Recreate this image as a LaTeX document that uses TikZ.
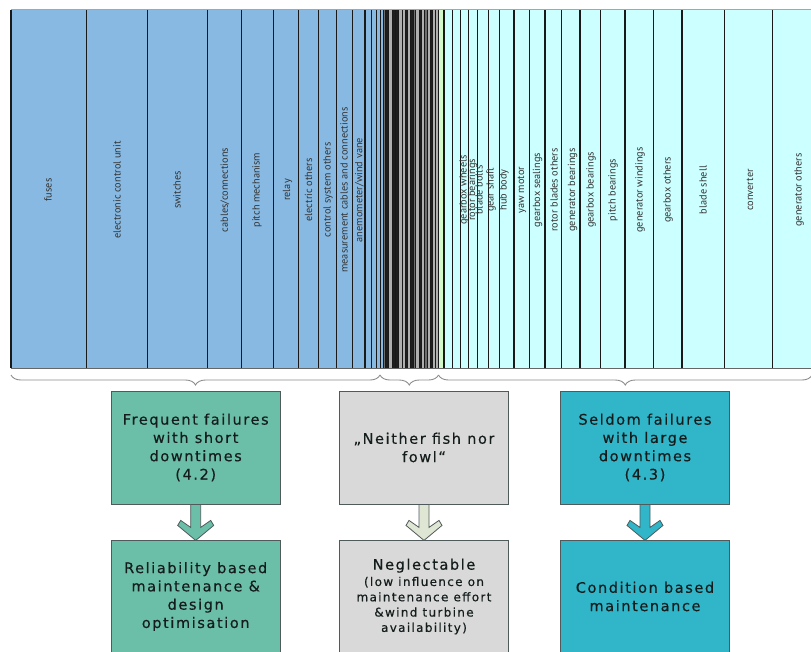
\documentclass[tikz,border=0pt]{standalone}
\usepackage{fontspec}
\setmainfont{DejaVu Sans}[LetterSpace=11, FakeBold=0.35]
\newfontfamily\labfont{PT Sans}
\usetikzlibrary{decorations.pathreplacing}
\definecolor{barblue}{RGB}{135,185,226}
\definecolor{barcyan}{RGB}{204,255,255}
\definecolor{bargreen}{RGB}{210,250,200}
\definecolor{bargray}{RGB}{175,175,175}
\definecolor{barmid}{RGB}{110,110,110}
\definecolor{bardark}{RGB}{30,30,30}
\definecolor{boxgreen}{RGB}{107,191,168}
\definecolor{boxgray}{RGB}{217,217,217}
\definecolor{boxteal}{RGB}{49,181,200}
\definecolor{arrowgray}{RGB}{224,230,212}
\definecolor{txt}{RGB}{20,28,28}
\definecolor{edge}{RGB}{80,90,90}
\tikzset{
  x=1pt, y=-1pt,
  barline/.style={line width=1.35pt, draw=black!90},
  thinline/.style={line width=0.7pt, draw=black!90},
  lab/.style={font=\labfont\fontsize{10.3}{10.3}\selectfont, rotate=90, text=black!80, inner sep=0pt},
  bigbox/.style={draw=edge, line width=0.8pt, minimum width=169pt, minimum height=113pt,
     align=center, text=txt, inner sep=2pt, font=\fontsize{14.5}{18.3}\selectfont},
  bracest/.style={draw=black!45, line width=0.9pt, decorate,
     decoration={brace, amplitude=10pt, mirror}},
  blockarrow/.style={draw=edge, line width=0.8pt},
}
\newcommand\mkarrow[3]{%
  \draw[blockarrow, fill=#3, shift={(#1.south)}]
    (-5,0) -- (5,0) -- (5,23) -- (15,16) -- (18,21) -- (0,36) -- (-18,21) -- (-15,16) -- (-5,23) -- cycle;}
\begin{document}
\begin{tikzpicture}
\useasboundingbox (0,0) rectangle (811,651);
\clip (0,0) rectangle (811,651);
% chart bars
\foreach \a/\b/\c in {
 11/86.7/barblue, 86.7/147.7/barblue, 147.7/207.3/barblue, 207.3/241.7/barblue,
 241.7/273.3/barblue, 273.3/298.7/barblue, 298.7/318.7/barblue, 318.7/336.7/barblue,
 336.7/352.3/barblue, 352.3/365/barblue, 365/371.7/barblue, 371.7/376.3/barblue,
 376.3/380.5/barblue,
 438.3/444/bargreen,
 444/452.5/barcyan, 452.5/460.5/barcyan, 460.5/468.7/barcyan, 468.7/477.7/barcyan,
 477.7/488.3/barcyan, 488.3/499.3/barcyan, 499.3/514/barcyan, 514/529.3/barcyan,
 529.3/545/barcyan, 545/561.7/barcyan, 561.7/580/barcyan, 580/600.7/barcyan,
 600.7/625/barcyan, 625/653.3/barcyan, 653.3/682/barcyan, 682/724.3/barcyan,
 724.3/772.7/barcyan, 772.7/830/barcyan}
 {\fill[\c] (\a,10) rectangle (\b,368);
  \draw[barline] (\a,10) -- (\a,368);}
% dense middle part
\foreach \a/\b/\c in {
 380.5/383.5/barblue,
 383.5/385.5/barmid, 385.5/388.5/bardark, 388.5/392/bargray, 392/395/bardark,
 395/398/bardark, 398/402/bargray, 402/405/bargray, 405/407.5/bardark,
 407.5/410.5/bargray, 410.5/413/bardark, 413/415.5/barmid, 415.5/419/bargray,
 419/421.5/bardark, 421.5/424.5/bargray, 424.5/427/barmid, 427/430/bargray,
 430/432.5/bardark, 432.5/435.5/bargray, 435.5/438.3/bargray}
 {\fill[\c] (\a,10) rectangle (\b,368);
  \draw[thinline] (\a,10) -- (\a,368);}
\draw[barline] (438.3,10) -- (438.3,368);
\draw[black!35, line width=1pt] (11,9.5) -- (811,9.5);
\draw[black!60, line width=1pt] (11,368) -- (811,368);
% bar labels
\foreach \x/\t in {48/fuses, 117/electronic control unit, 177/switches,
 225/cables\slash connections, 257/pitch mechanism, 287.5/relay, 308.5/electric others,
 328/control system others, 344/measurement cables and connections,
 359.5/anemometer\slash wind vane, 464/gearbox wheels, 472.5/rotor bearings,
 479/blade bolts, 491/gear shaft, 504/hub body, 522/yaw motor, 537.5/gearbox sealings,
 554/rotor blades others, 572.5/generator bearings, 591/gearbox bearings,
 613/pitch bearings, 640/generator windings, 668/gearbox others, 703/blade shell,
 750/converter, 799/generator others}
 {\node[lab] at (\x,190) {\t};}
% braces
\coordinate (br0) at (11,375);
\coordinate (br1) at (380,375);
\coordinate (br2) at (438.5,375);
\coordinate (br3) at (812,375);
\draw[bracest] (br0) -- (br1);
\draw[bracest] (br1) -- (br2);
\draw[bracest] (br2) -- (br3);
% boxes
\node[bigbox, fill=boxgreen] (b1) at (195.7,447.5) {Frequent failures\\with short\\downtimes\\(4.2)};
\node[bigbox, fill=boxgray] (b2) at (424,447.5) {„Neither fish nor\\fowl“};
\node[bigbox, fill=boxteal] (b3) at (645,447.5) {Seldom failures\\with large\\downtimes\\(4.3)};
\node[bigbox, fill=boxgreen] (b4) at (195.7,596.5) {Reliability based\\maintenance \&\\design\\optimisation};
\node[bigbox, fill=boxgray, font=\fontsize{12}{15.3}\selectfont] (b5) at (424,596.5)
  {{\fontsize{14.5}{15}\selectfont Neglectable}\\[1pt](low influence on\\maintenance effort\\\&wind turbine\\availability)};
\node[bigbox, fill=boxteal] (b6) at (645,596.5) {Condition based\\maintenance};
% arrows
\mkarrow{b1}{b4}{boxgreen}
\mkarrow{b2}{b5}{arrowgray}
\mkarrow{b3}{b6}{boxteal}
\end{tikzpicture}
\end{document}
